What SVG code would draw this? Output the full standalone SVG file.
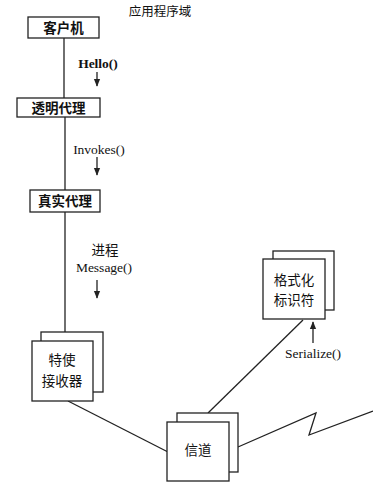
<svg xmlns="http://www.w3.org/2000/svg" width="373" height="493" viewBox="0 0 373 493">
<style>
.box{fill:#fff;stroke:#222;stroke-width:1.3}
.ln{fill:none;stroke:#222;stroke-width:1.3}
.cn{font-family:"Noto Sans CJK SC","Noto Sans CJK JP",sans-serif;font-size:13.5px;fill:#111;text-anchor:middle}
.lt{font-family:"Liberation Serif",serif;font-size:13.5px;fill:#111;text-anchor:middle}
</style>
<defs>
<marker id="ah" viewBox="0 0 10 10" refX="9" refY="5" markerWidth="6" markerHeight="6" orient="auto-start-reverse">
<path d="M0,1 L10,5 L0,9 Z" fill="#222"/>
</marker>
</defs>
<rect width="373" height="493" fill="#fff"/>
<text class="cn" x="160" y="16" style="font-size:12.5px">应用程序域</text>
<g id="connectors">
<line class="ln" x1="64" y1="38" x2="64" y2="98"/>
<line class="ln" x1="65" y1="117" x2="65" y2="190"/>
<line class="ln" x1="65" y1="212" x2="65" y2="332"/>
<line class="ln" x1="68" y1="401" x2="168" y2="452"/>
<line class="ln" x1="303" y1="320" x2="208" y2="413"/>
<polyline class="ln" points="238,447 316,413 309,435 373,411"/>
<line class="ln" x1="97" y1="72" x2="97" y2="86" marker-end="url(#ah)"/>
<line class="ln" x1="97" y1="157" x2="97" y2="175" marker-end="url(#ah)"/>
<line class="ln" x1="97" y1="280" x2="97" y2="298" marker-end="url(#ah)"/>
<line class="ln" x1="313" y1="343" x2="313" y2="322" marker-end="url(#ah)"/>
<text class="lt" x="98" y="68" font-weight="bold">Hello()</text>
<text class="lt" x="99" y="154">Invokes()</text>
<text class="cn" x="105" y="255">进程</text>
<text class="lt" x="104" y="272">Message()</text>
<text class="lt" x="313" y="358">Serialize()</text>
</g>
<g id="client">
<rect class="box" x="28" y="17" width="71" height="21"/>
<text class="cn" x="63.5" y="32.5" font-weight="bold">客户机</text>
</g>
<g id="transparent-proxy">
<rect class="box" x="17" y="98" width="83" height="19"/>
<text class="cn" x="58.5" y="112.5" font-weight="bold">透明代理</text>
</g>
<g id="real-proxy">
<rect class="box" x="30" y="190" width="70" height="22"/>
<text class="cn" x="65" y="206" font-weight="bold">真实代理</text>
</g>
<g id="envoy-sink">
<rect class="box" x="41" y="332" width="62" height="60"/>
<rect class="box" x="32" y="341" width="61" height="60"/>
<text class="cn" x="62" y="365">特使</text>
<text class="cn" x="62" y="386">接收器</text>
</g>
<g id="formatter">
<rect class="box" x="273" y="251" width="61" height="59"/>
<rect class="box" x="263" y="259" width="62" height="60"/>
<text class="cn" x="294" y="285">格式化</text>
<text class="cn" x="294" y="305">标识符</text>
</g>
<g id="channel">
<rect class="box" x="177" y="413" width="61" height="59"/>
<rect class="box" x="167" y="422" width="62" height="59"/>
<text class="cn" x="198" y="455">信道</text>
</g>
</svg>
